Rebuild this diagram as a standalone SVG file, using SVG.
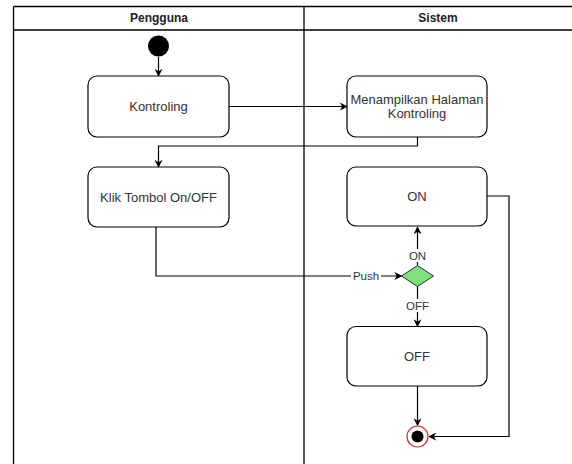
<svg xmlns="http://www.w3.org/2000/svg" width="572" height="464" viewBox="0 0 572 464">
  <style>
    .lane { fill: none; stroke: #000; stroke-width: 1.3; }
    .hdr { font-family: "Liberation Sans", Arial, sans-serif; font-size: 12px; font-weight: bold; fill: #222; text-anchor: middle; }
    .box { fill: #fff; stroke: #000; stroke-width: 1.2; }
    .txt { font-family: "Liberation Sans", Arial, sans-serif; font-size: 13px; fill: #333; text-anchor: middle; }
    .lbl { font-family: "Liberation Sans", Arial, sans-serif; font-size: 11.5px; fill: #333; text-anchor: middle; }
    .edge { fill: none; stroke: #000; stroke-width: 1.2; }
  </style>
  <defs>
    <marker id="arrow" viewBox="0 0 10 10" refX="9" refY="5" markerWidth="8" markerHeight="8" markerUnits="userSpaceOnUse" orient="auto">
      <path d="M0,0 L10,5 L0,10 L3,5 Z" fill="#000"/>
    </marker>
  </defs>

  <rect width="572" height="464" fill="#fff"/>

  <!-- swimlanes -->
  <g id="lanes">
    <line class="lane" x1="13.5" y1="6.5" x2="572" y2="6.5"/>
    <line class="lane" x1="13.5" y1="30" x2="572" y2="30"/>
    <line class="lane" x1="13.5" y1="6.5" x2="13.5" y2="464"/>
    <line class="lane" x1="304" y1="6.5" x2="304" y2="464"/>
    <text class="hdr" x="159" y="22">Pengguna</text>
    <text class="hdr" x="438" y="22">Sistem</text>
  </g>

  <!-- connectors -->
  <g id="connectors">
    <path class="edge" d="M158.5,57 L158.5,76" marker-end="url(#arrow)"/>
    <path class="edge" d="M229,106.5 L347,106.5" marker-end="url(#arrow)"/>
    <path class="edge" d="M417.5,137 L417.5,146 L158.5,146 L158.5,167" marker-end="url(#arrow)"/>
    <path class="edge" d="M156,227 L156,276 L401.5,276" marker-end="url(#arrow)"/>
    <path class="edge" d="M417.5,265.5 L417.5,227" marker-end="url(#arrow)"/>
    <path class="edge" d="M417.5,286 L417.5,326.5" marker-end="url(#arrow)"/>
    <path class="edge" d="M417.5,386 L417.5,425.5" marker-end="url(#arrow)"/>
    <path class="edge" d="M487,196 L509,196 L509,436.5 L429,436.5" marker-end="url(#arrow)"/>
    <rect x="351" y="269" width="30" height="14" fill="#fff"/>
    <text class="lbl" x="366" y="280">Push</text>
    <rect x="407" y="249" width="21" height="13" fill="#fff"/>
    <text class="lbl" x="417.5" y="260">ON</text>
    <rect x="404" y="299" width="27" height="13" fill="#fff"/>
    <text class="lbl" x="417.5" y="310">OFF</text>
  </g>

  <!-- nodes -->
  <g id="start">
    <circle cx="158.5" cy="46" r="10.5" fill="#000"/>
  </g>
  <g id="kontroling">
    <rect class="box" x="88" y="76" width="141" height="61" rx="9"/>
    <text class="txt" x="158.5" y="111">Kontroling</text>
  </g>
  <g id="menampilkan">
    <rect class="box" x="347" y="76" width="140" height="61" rx="9"/>
    <text class="txt" x="417" y="103.5">Menampilkan Halaman</text>
    <text class="txt" x="417" y="117.5">Kontroling</text>
  </g>
  <g id="klik">
    <rect class="box" x="88" y="167" width="141" height="60" rx="9"/>
    <text class="txt" x="158.5" y="201.5">Klik Tombol On/OFF</text>
  </g>
  <g id="on">
    <rect class="box" x="347" y="167" width="140" height="59" rx="9"/>
    <text class="txt" x="417" y="201">ON</text>
  </g>
  <g id="decision">
    <polygon points="417.5,265.5 433.5,276 417.5,286.5 401.5,276" fill="#7fe07f" stroke="#2a2a2a" stroke-width="1"/>
  </g>
  <g id="off">
    <rect class="box" x="347" y="326.5" width="140" height="59.5" rx="9"/>
    <text class="txt" x="417" y="360.5">OFF</text>
  </g>
  <g id="end">
    <circle cx="417.5" cy="436.5" r="10.5" fill="#fff" stroke="#d03030" stroke-width="1.2"/>
    <circle cx="417.5" cy="436.5" r="6" fill="#000"/>
  </g>
</svg>
